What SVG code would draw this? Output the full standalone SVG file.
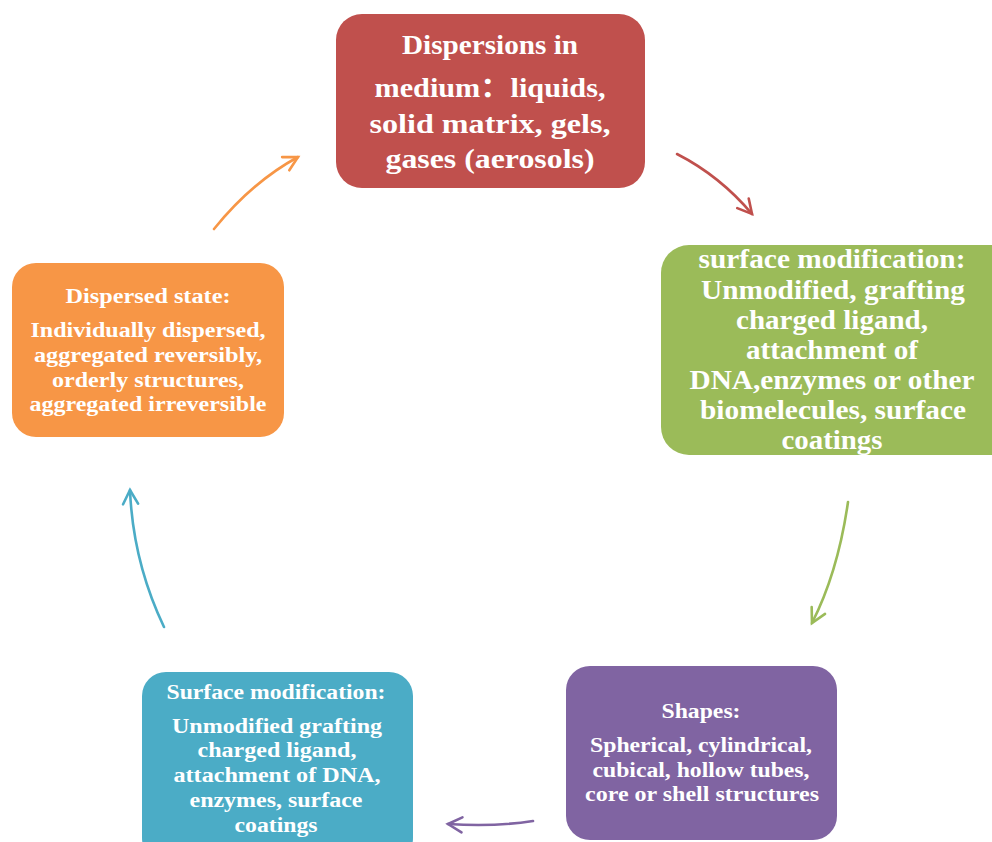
<svg xmlns="http://www.w3.org/2000/svg" width="992" height="842" viewBox="0 0 992 842">
<style>
text{font-family:"Liberation Serif","Times New Roman","Noto Sans CJK SC",serif;font-weight:bold;fill:#fff;text-anchor:middle}
.red{font-size:27.5px}
.big{font-size:26.5px}
.sm{font-size:20.5px}
.c{fill:none;stroke-width:2.6;stroke-linecap:round}
</style>
<defs>
<marker id="mR" viewBox="-16 -10 20 20" refX="0" refY="0" markerWidth="20" markerHeight="20" markerUnits="userSpaceOnUse" orient="auto"><path d="M-14,-7.5 L0,0 L-14,7.5" fill="none" stroke="#C0504D" stroke-width="2.6" stroke-linecap="round"/></marker>
<marker id="mG" viewBox="-16 -10 20 20" refX="0" refY="0" markerWidth="20" markerHeight="20" markerUnits="userSpaceOnUse" orient="auto"><path d="M-14,-7.5 L0,0 L-14,7.5" fill="none" stroke="#9BBB59" stroke-width="2.6" stroke-linecap="round"/></marker>
<marker id="mP" viewBox="-16 -10 20 20" refX="0" refY="0" markerWidth="20" markerHeight="20" markerUnits="userSpaceOnUse" orient="auto"><path d="M-14,-7.5 L0,0 L-14,7.5" fill="none" stroke="#8064A2" stroke-width="2.6" stroke-linecap="round"/></marker>
<marker id="mB" viewBox="-16 -10 20 20" refX="0" refY="0" markerWidth="20" markerHeight="20" markerUnits="userSpaceOnUse" orient="auto"><path d="M-14,-7.5 L0,0 L-14,7.5" fill="none" stroke="#4BACC6" stroke-width="2.6" stroke-linecap="round"/></marker>
<marker id="mO" viewBox="-16 -10 20 20" refX="0" refY="0" markerWidth="20" markerHeight="20" markerUnits="userSpaceOnUse" orient="auto"><path d="M-14,-7.5 L0,0 L-14,7.5" fill="none" stroke="#F79646" stroke-width="2.6" stroke-linecap="round"/></marker>
</defs>
<rect width="992" height="842" fill="#fff"/>
<g id="connectors">
<path class="c" stroke="#C0504D" d="M677,154 Q720,176 752,214" marker-end="url(#mR)"/>
<path class="c" stroke="#9BBB59" d="M848,502 Q838,572 812,623" marker-end="url(#mG)"/>
<path class="c" stroke="#8064A2" d="M533,821 Q495,827 448,824" marker-end="url(#mP)"/>
<path class="c" stroke="#4BACC6" d="M164,627 Q133,562 130,490" marker-end="url(#mB)"/>
<path class="c" stroke="#F79646" d="M214,229 Q252,182 298,157" marker-end="url(#mO)"/>
</g>
<g id="node-dispersions">
<rect x="336" y="14" width="309" height="174" rx="26" fill="#C0504D"/>
<text class="red" x="490" y="54" textLength="176" lengthAdjust="spacingAndGlyphs">Dispersions in</text>
<text class="red" x="490" y="97" textLength="231" lengthAdjust="spacingAndGlyphs">medium：liquids,</text>
<text class="red" x="490" y="133" textLength="241" lengthAdjust="spacingAndGlyphs">solid matrix, gels,</text>
<text class="red" x="490" y="168" textLength="209" lengthAdjust="spacingAndGlyphs">gases (aerosols)</text>
</g>
<g id="node-surface-top">
<rect x="661" y="245" width="360" height="210" rx="28" fill="#9BBB59"/>
<text class="big" x="832" y="268" textLength="267" lengthAdjust="spacingAndGlyphs">surface modification:</text>
<text class="big" x="833" y="299" textLength="264" lengthAdjust="spacingAndGlyphs">Unmodified, grafting</text>
<text class="big" x="832" y="329" textLength="192" lengthAdjust="spacingAndGlyphs">charged ligand,</text>
<text class="big" x="832" y="359" textLength="172" lengthAdjust="spacingAndGlyphs">attachment of</text>
<text class="big" x="832" y="389" textLength="285" lengthAdjust="spacingAndGlyphs">DNA,enzymes or other</text>
<text class="big" x="833" y="419" textLength="266" lengthAdjust="spacingAndGlyphs">biomelecules, surface</text>
<text class="big" x="832" y="449" textLength="101" lengthAdjust="spacingAndGlyphs">coatings</text>
</g>
<g id="node-shapes">
<rect x="566" y="666" width="271" height="174" rx="24" fill="#8064A2"/>
<text class="sm" x="701" y="718" textLength="79" lengthAdjust="spacingAndGlyphs">Shapes:</text>
<text class="sm" x="701" y="752" textLength="222" lengthAdjust="spacingAndGlyphs">Spherical, cylindrical,</text>
<text class="sm" x="701" y="777" textLength="217" lengthAdjust="spacingAndGlyphs">cubical, hollow tubes,</text>
<text class="sm" x="702" y="801" textLength="234" lengthAdjust="spacingAndGlyphs">core or shell structures</text>
</g>
<g id="node-surface-bottom">
<rect x="142" y="672" width="271" height="190" rx="24" fill="#4BACC6"/>
<text class="sm" x="276" y="699" textLength="219" lengthAdjust="spacingAndGlyphs">Surface modification:</text>
<text class="sm" x="277" y="733" textLength="210" lengthAdjust="spacingAndGlyphs">Unmodified grafting</text>
<text class="sm" x="277" y="757" textLength="159" lengthAdjust="spacingAndGlyphs">charged ligand,</text>
<text class="sm" x="277" y="782" textLength="207" lengthAdjust="spacingAndGlyphs">attachment of DNA,</text>
<text class="sm" x="276" y="807" textLength="173" lengthAdjust="spacingAndGlyphs">enzymes, surface</text>
<text class="sm" x="276" y="832" textLength="83" lengthAdjust="spacingAndGlyphs">coatings</text>
</g>
<g id="node-dispersed-state">
<rect x="12" y="263" width="272" height="174" rx="24" fill="#F79646"/>
<text class="sm" x="148" y="303" textLength="165" lengthAdjust="spacingAndGlyphs">Dispersed state:</text>
<text class="sm" x="148" y="337" textLength="235" lengthAdjust="spacingAndGlyphs">Individually dispersed,</text>
<text class="sm" x="148" y="362" textLength="228" lengthAdjust="spacingAndGlyphs">aggregated reversibly,</text>
<text class="sm" x="148" y="387" textLength="192" lengthAdjust="spacingAndGlyphs">orderly structures,</text>
<text class="sm" x="148" y="411" textLength="237" lengthAdjust="spacingAndGlyphs">aggregated irreversible</text>
</g>
</svg>
